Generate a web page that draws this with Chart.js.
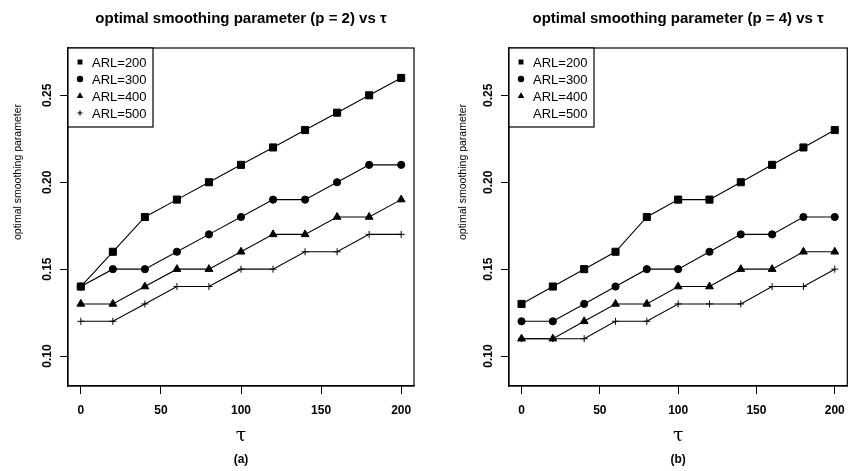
<!DOCTYPE html>
<html>
<head>
<meta charset="utf-8">
<script src="https://cdn.jsdelivr.net/npm/chart.js@4/dist/chart.umd.min.js"></script>
<style>
  html,body{margin:0;padding:0;background:#fff;}
  #wrap{position:relative;width:854px;height:471px;}
  .pane{position:absolute;top:0;width:427px;height:471px;}
</style>
</head>
<body>
<div id="wrap">
  <div class="pane" style="left:0"><canvas id="c1"></canvas></div>
  <div class="pane" style="left:427px"><canvas id="c2"></canvas></div>
</div>
<script>
// tau values (x) and ticks
const tau = [0, 20, 40, 60, 80, 100, 120, 140, 160, 180, 200];
const xTicks = [0, 50, 100, 150, 200];
const yTicks = [0.10, 0.15, 0.20, 0.25];
const arlLabels = ['ARL=200', 'ARL=300', 'ARL=400', 'ARL=500'];

// panel (a): p = 2
const p2Arl200 = [0.14, 0.16, 0.18, 0.19, 0.20, 0.21, 0.22, 0.23, 0.24, 0.25, 0.26];
const p2Arl300 = [0.14, 0.15, 0.15, 0.16, 0.17, 0.18, 0.19, 0.19, 0.20, 0.21, 0.21];
const p2Arl400 = [0.13, 0.13, 0.14, 0.15, 0.15, 0.16, 0.17, 0.17, 0.18, 0.18, 0.19];
const p2Arl500 = [0.12, 0.12, 0.13, 0.14, 0.14, 0.15, 0.15, 0.16, 0.16, 0.17, 0.17];

// panel (b): p = 4
const p4Arl200 = [0.13, 0.14, 0.15, 0.16, 0.18, 0.19, 0.19, 0.20, 0.21, 0.22, 0.23];
const p4Arl300 = [0.12, 0.12, 0.13, 0.14, 0.15, 0.15, 0.16, 0.17, 0.17, 0.18, 0.18];
const p4Arl400 = [0.11, 0.11, 0.12, 0.13, 0.13, 0.14, 0.14, 0.15, 0.15, 0.16, 0.16];
const p4Arl500 = [0.11, 0.11, 0.11, 0.12, 0.12, 0.13, 0.13, 0.13, 0.14, 0.14, 0.15];

const styles = ['rect', 'circle', 'triangle', 'cross'];
const radii  = [5, 3.6, 4.5, 3.5];
const FONT = '"Liberation Sans", Arial, Helvetica, sans-serif';

Chart.defaults.color = '#000';
Chart.defaults.font.family = FONT;

// R-like frame, rotated y labels, titles, boxed legend
const decor = {
  id: 'decor',
  afterDraw(chart, args, o) {
    const ctx = chart.ctx, a = chart.chartArea, ys = chart.scales.y;
    const cx = (a.left + a.right) / 2;
    ctx.save();
    ctx.strokeStyle = '#000';
    ctx.lineWidth = 1.2;
    ctx.strokeRect(a.left, a.top, a.right - a.left, a.bottom - a.top);

    ctx.fillStyle = '#000';
    ctx.textAlign = 'center';
    ctx.textBaseline = 'middle';
    // y tick labels, parallel to axis
    ctx.font = 'bold 12px ' + FONT;
    yTicks.forEach(v => {
      ctx.save();
      ctx.translate(a.left - 20, ys.getPixelForValue(v));
      ctx.rotate(-Math.PI / 2);
      ctx.fillText(v.toFixed(2), 0, 0);
      ctx.restore();
    });
    // y axis title
    ctx.save();
    ctx.translate(a.left - o.yTitleOff, 172);
    ctx.rotate(-Math.PI / 2);
    ctx.font = '10.5px ' + FONT;
    ctx.fillText('optimal smoothing parameter', 0, 0);
    ctx.restore();

    ctx.font = 'bold 15px ' + FONT;
    ctx.fillText(o.title, cx, 19);
    ctx.font = '19px "DejaVu Serif", serif';
    ctx.fillText('τ', cx, 436);
    ctx.font = 'bold 12px ' + FONT;
    ctx.fillText(o.caption, cx, 460);

    // legend box
    const lx = a.left, ly = a.top;
    ctx.fillStyle = '#fff';
    ctx.fillRect(lx, ly, 85, 79);
    ctx.strokeRect(lx, ly, 85, 79);
    ctx.fillStyle = '#000';
    ctx.textAlign = 'left';
    ctx.font = '13px ' + FONT;
    arlLabels.forEach((t, i) => {
      const y = ly + 14 + i * 17;
      if (o.legendMarks[i]) {
        Chart.helpers.drawPoint(ctx, {pointStyle: styles[i], radius: 2.6, borderWidth: 1, rotation: 0}, lx + 12, y);
        if (styles[i] !== 'cross') ctx.fill();
      }
      ctx.fillStyle = '#000';
      ctx.strokeStyle = '#000';
      ctx.fillText(t, lx + 24, y + 1);
    });
    ctx.restore();
  }
};

function makeChart(id, series, title, caption, padLeft, padRight, yTitleOff, legendMarks) {
  return new Chart(document.getElementById(id), {
    type: 'line',
    data: {
      datasets: series.map((s, i) => ({
        label: arlLabels[i],
        data: tau.map((t, k) => ({x: t, y: s[k]})),
        borderColor: '#000',
        backgroundColor: '#000',
        borderWidth: 1.1,
        pointStyle: styles[i],
        pointRadius: radii[i],
        pointBorderWidth: 1,
        tension: 0
      }))
    },
    plugins: [decor],
    options: {
      responsive: true, maintainAspectRatio: false, animation: false,
      layout: {padding: {left: padLeft, right: padRight, top: 48, bottom: 0}},
      plugins: {
        legend: {display: false},
        tooltip: {enabled: false},
        decor: {title, caption, yTitleOff, legendMarks}
      },
      scales: {
        x: {
          type: 'linear', min: -8, max: 208,
          afterBuildTicks: s => { s.ticks = xTicks.map(v => ({value: v})); },
          afterFit: s => { s.height = 85; },
          grid: {display: true, drawOnChartArea: false, drawTicks: true, tickLength: 8, color: '#000', lineWidth: 1},
          border: {display: true, color: '#000', width: 1.2},
          ticks: {padding: 9, font: {size: 12, weight: 'bold'}, maxRotation: 0, callback: v => v}
        },
        y: {
          type: 'linear', min: 0.0828, max: 0.2772,
          afterBuildTicks: s => { s.ticks = yTicks.map(v => ({value: v})); },
          afterFit: s => { s.width = 68; },
          grid: {display: true, drawOnChartArea: false, drawTicks: true, tickLength: 8, color: '#000', lineWidth: 1},
          border: {display: true, color: '#000', width: 1.2},
          ticks: {display: false}
        }
      }
    }
  });
}

makeChart('c1', [p2Arl200, p2Arl300, p2Arl400, p2Arl500],
  'optimal smoothing parameter (p = 2) vs τ', '(a)', 0, 13, 50, [true, true, true, true]);
makeChart('c2', [p4Arl200, p4Arl300, p4Arl400, p4Arl500],
  'optimal smoothing parameter (p = 4) vs τ', '(b)', 14, 0, 46, [true, true, true, false]);
</script>
</body>
</html>
